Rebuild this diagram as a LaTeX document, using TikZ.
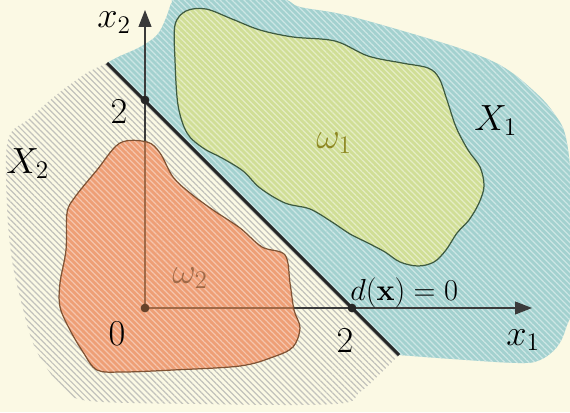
\documentclass[tikz,border=0pt]{standalone}
\usetikzlibrary{arrows.meta,patterns.meta}
\definecolor{cream}{HTML}{FBF9E4}
\definecolor{hatchgray}{HTML}{C2C2BC}
\definecolor{regblue}{HTML}{A3D1CF}
\definecolor{reggreen}{HTML}{D0DE96}
\definecolor{regorange}{HTML}{EE9F76}
\definecolor{greenline}{HTML}{3E5A40}
\definecolor{orangeline}{HTML}{7F5233}
\definecolor{axisgray}{HTML}{3A3A3A}
\tikzset{
 region/.style={pattern={Lines[angle=-45,distance=2.4pt,line width=0.7pt]},pattern color=#1},
 axis/.style={-{Triangle[length=0.34cm,width=0.26cm]},line width=0.6pt,draw=axisgray},
 boundary/.style={line width=1.7pt,draw=black!85},
 lbl/.style={font=\fontsize{20}{24}\selectfont,inner sep=0pt},
 tickdot/.style={circle,fill=#1,inner sep=0pt,minimum size=5pt}
}
\newcommand{\omegatwo}{plot[smooth cycle,tension=0.55] coordinates {(120,143) (147,142)
  (160,153) (173,177) (190,193) (213,210) (240,228) (262,247) (285,255) (290,283)
  (294,310) (300,328) (293,347) (273,357) (240,366) (173,370) (123,372) (97,370)
  (83,352) (70,330) (60,307) (60,283) (66,250) (67,213) (75,197) (97,170)}}

\begin{document}
\begin{tikzpicture}[x=0.02cm,y=-0.02cm]
\useasboundingbox (0,0) rectangle (570,412);
\clip (0,0) rectangle (570,412);
\fill[cream] (0,0) rectangle (570,412);

% ends of the line d(x)=0 and the axes
\coordinate (dtop) at (107,63);
\coordinate (dbot) at (399,355);
\coordinate (O) at (145,308);
\coordinate (x1tip) at (532,308);
\coordinate (x2tip) at (145,10);

% region X2
\path[preaction={fill=cream},region=hatchgray] (dtop) -- (dbot)
  -- plot[smooth,tension=0.6] coordinates {(399,355) (383,371) (360,392) (335,404)
  (200,404) (90,401) (66,390) (48,370) (33,343) (22,305) (12,260) (7,205) (8,140)
  (30,118) (60,92) (88,72)} -- cycle;
% region X1
\path[preaction={fill=regblue},region=regblue!55!white] (dbot)
  -- plot[smooth,tension=0.6] coordinates {(399,355) (452,359) (518,363) (540,360)
  (557,347) (566,328) (572,300) (572,200) (566,138) (553,112) (535,92) (505,68)
  (470,52) (420,36) (345,15) (300,7) (275,-2) (180,-2) (172,2) (166,18) (157,35)
  (140,47) (118,57) (107,63)} -- cycle;

% omega_1
\path[preaction={fill=reggreen},region=reggreen!55!white,draw=greenline,line width=0.7pt]
  plot[smooth cycle,tension=0.55] coordinates {(175,25) (186,11) (206,9) (232,19)
  (260,30) (293,37) (335,41) (368,56) (402,63) (428,68) (439,78) (447,100) (456,127)
  (468,150) (480,167) (484,186) (479,203) (469,220) (457,233) (446,250) (434,262)
  (418,266) (400,262) (385,252) (368,243) (350,234) (332,222) (310,209) (285,203)
  (260,188) (243,171) (222,158) (203,148) (187,133) (178,105) (175,60)};

% omega_2
\path[preaction={fill=regorange},region=regorange!60!white] \omegatwo;

% axes, brown where they cross omega_2
\draw[axis] (O) -- (x1tip);
\draw[axis] (O) -- (x2tip);
\begin{scope}
  \clip \omegatwo;
  \draw[line width=0.8pt,draw=orangeline!70!regorange] (O) -- (x1tip) (O) -- (x2tip);
\end{scope}
\draw[draw=orangeline,line width=0.7pt] \omegatwo;

\draw[boundary] (dtop) -- (dbot);

\node[tickdot=orangeline!80!black] (origin) at (O) {};
\node[tickdot=black!85] (twoup) at (145,100) {};
\node[tickdot=black!85] (tworight) at (352,308) {};

% labels
\node[lbl,anchor=base west] (x2lbl) at (97,28) {$x_2$};
\node[lbl,anchor=base west] (x1lbl) at (506,345) {$x_1$};
\node[lbl,anchor=base west] (X1lbl) at (474,130) {$X_1$};
\node[lbl,anchor=base west] (X2lbl) at (6,173) {$X_2$};
\node[lbl,anchor=base] (twouplbl) at (119,123) {$2$};
\node[lbl,anchor=base] (tworightlbl) at (345,352) {$2$};
\node[lbl,anchor=base] (zerolbl) at (117,345) {$0$};
\node[lbl,anchor=base west,font=\fontsize{18}{22}\selectfont] (dlbl) at (350,300)
  {$d(\mathbf{x})=0$};
\node[lbl,anchor=base west,text=olive!75!gray] (w1lbl) at (316,148) {$\omega_1$};
\node[lbl,anchor=base west,text=orangeline!70!regorange] (w2lbl) at (172,283) {$\omega_2$};
\end{tikzpicture}
\end{document}
